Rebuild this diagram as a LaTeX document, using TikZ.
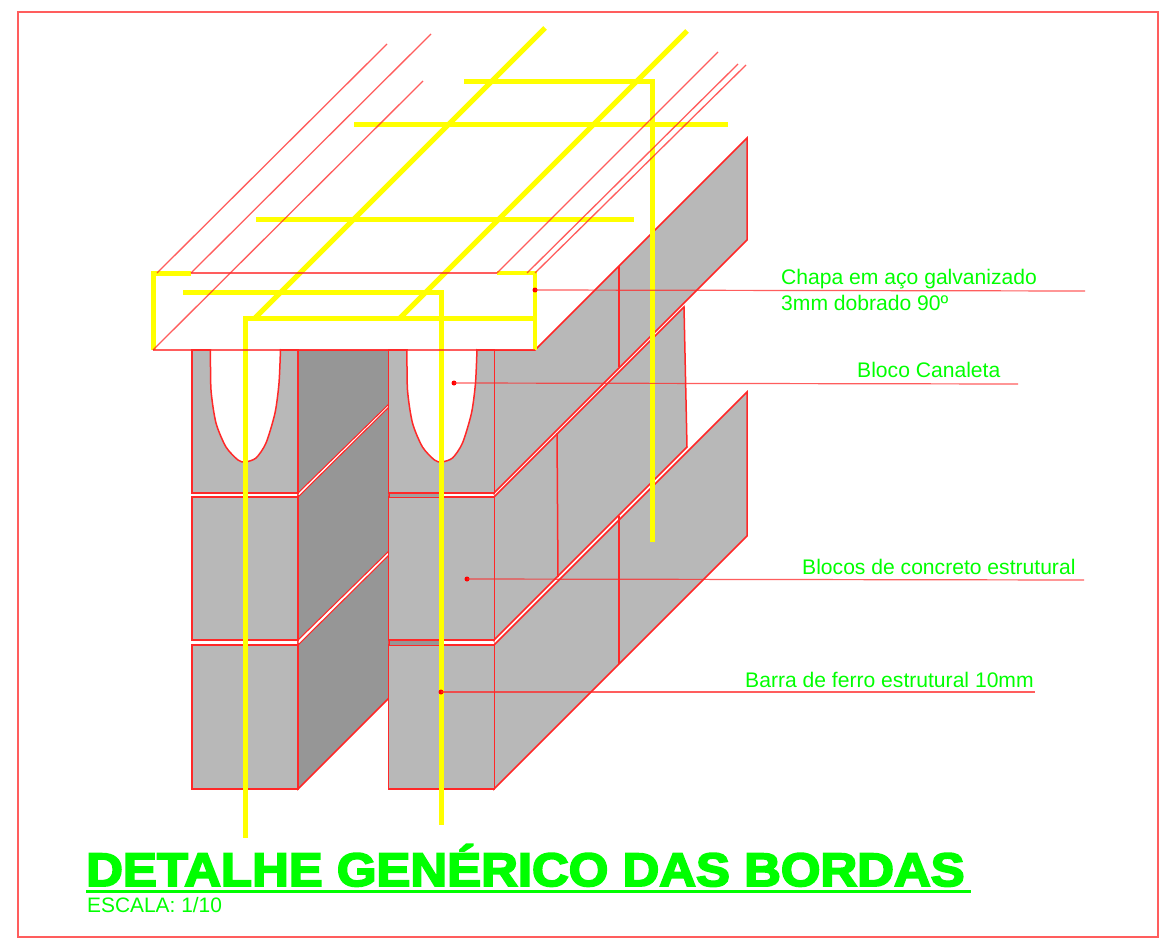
\documentclass[tikz,border=0pt]{standalone}
\usepackage{fontspec}
\setmainfont{Liberation Sans}
\newfontfamily\titlefont[BoldFeatures={FakeBold=4,FakeStretch=1.083}]{Liberation Sans}
\definecolor{linered}{RGB}{255,40,40}
\definecolor{barya}{RGB}{255,255,0}
\definecolor{labelgreen}{RGB}{0,255,0}
\definecolor{blockgray}{RGB}{184,184,184}
\definecolor{sidegray}{RGB}{150,150,150}
\def\colgap{196.5}

\begin{document}
\begin{tikzpicture}[x=1pt, y=-1pt]
        \tikzstyle{edge}   = [draw=linered, line width=1.5pt]
        \tikzstyle{block}  = [edge, fill=blockgray]
        \tikzstyle{side}   = [edge, fill=sidegray]
        \tikzstyle{gapline} = [edge, fill=white, line width=1.1pt]
        \tikzstyle{thin}   = [draw=linered, draw opacity=0.75, line width=1.3pt]
        \tikzstyle{bar}    = [draw=barya, line width=5pt]
        \tikzstyle{tie}    = [draw=barya, line width=5pt]
        \tikzstyle{callout} = [anchor=base west, inner sep=0pt, text=labelgreen, font=\fontsize{21.1}{24}\selectfont]
        \tikzstyle{dot}    = [circle, fill=red, minimum width=5pt, inner sep=0pt]
        \tikzstyle{leader} = [draw=linered, draw opacity=0.75, line width=1.2pt]

        \useasboundingbox (0,0) rectangle (1164,942);
        \fill[white] (0,0) rectangle (1164,942);
        \draw[thin, line width=1.6pt] (18,12) rectangle (1158,937);

        % side faces
        \draw[side] (298,350) -- (389,350) -- (389,698) -- (298,789) -- cycle;
        \draw[block] (494,350) -- (535,350) -- (747,138) -- (747,240) -- (494,493) -- cycle;
        \draw[block] (494,497) -- (684,307) -- (687,447) -- (494,640) -- cycle;
        \draw[block] (494,645) -- (747,392) -- (747,536) -- (494,789) -- cycle;
        \draw[gapline] (298,493) -- (389,404) -- (389,407) -- (298,497) -- cycle;
        \draw[gapline] (298,640) -- (389,551) -- (389,555) -- (298,645) -- cycle;
        \draw[edge] (619,266) -- (619,367);
        \draw[edge] (557,433) -- (558,577);
        \draw[edge] (619,516) -- (619,664);

        % block fronts, left and right column
        \foreach \i in {0,1}
        {
                \begin{scope}[xshift={\i*\colgap}]
                        \draw[block] (192,350) rectangle (298,493);
                        \draw[edge, fill=white] plot[smooth, tension=0.45] coordinates {(210.5,349) (211,390) (216,423) (226,447) (238,460) (245,462) (256,458) (266,443) (275,413) (279,383) (280.5,349)};
                        \draw[block] (192,497) rectangle (298,640);
                        \draw[block] (192,645) rectangle (298,789);
                \end{scope}
        }
        \fill[sidegray] (389.5,640.5) rectangle (441,644.5);
        \fill[sidegray!70!blockgray] (389.5,493.5) rectangle (441,496.5);
        \draw[linered, draw opacity=0.5, line width=0.7pt] (494,350) -- (494,789);

        % bars
        \draw[tie] (255,318) -- (545,28);
        \draw[tie] (400,318) -- (687,31);
        \draw[bar] (354,124) -- (728,124);
        \draw[bar] (256,219) -- (634,219);
        \draw[bar] (464,81) -- (652,81) -- (652,542);
        \draw[bar] (183,292) -- (441,292) -- (441,825);
        \draw[bar] (245,838) -- (245,318) -- (535,318);
        \draw[bar] (191,273) -- (153,273) -- (153,350);
        \draw[bar, line width=4pt] (497,273) -- (535,273) -- (535,350);

        % plate
        \draw[thin] (191,273) -- (497,273);
        \draw[thin] (153,350) -- (535,350);
        \draw[thin] (153,350) -- (423,81);
        \draw[thin] (157,273) -- (387,44);
        \draw[thin] (191,273) -- (431,34);
        \draw[thin] (497,273) -- (718,52);
        \draw[thin] (527,273) -- (738,64);
        \draw[thin] (535,273) -- (746,65);

        % callouts
        \node[dot] (chapadot) at (535,290) {};
        \node[dot] (canaletadot) at (454,383) {};
        \node[dot] (blocosdot) at (467,579) {};
        \node[dot] (barradot) at (441,692) {};
        \coordinate (chapaend) at (1085,291);
        \coordinate (canaletaend) at (1018,384);
        \coordinate (blocosend) at (1084,580);
        \coordinate (barraend) at (1035,692);
        \draw[leader] (chapadot.center) -- (chapaend);
        \draw[leader] (canaletadot.center) -- (canaletaend);
        \draw[leader] (blocosdot.center) -- (blocosend);
        \draw[leader] (barradot.center) -- (barraend);

        \node[callout] (chapa1) at (781,284) {Chapa em aço galvanizado};
        \node[callout] (chapa2) at (781,310) {3mm dobrado 90º};
        \node[callout] (canaleta) at (857,377) {Bloco Canaleta};
        \node[callout] (blocos) at (802,574) {Blocos de concreto estrutural};
        \node[callout] (barra) at (745,687) {Barra de ferro estrutural 10mm};

        % title
        \node[anchor=base west, inner sep=0pt, text=labelgreen, font=\titlefont\bfseries\fontsize{47}{50}\selectfont] (title) at (86,886) {DETALHE GENÉRICO DAS BORDAS};
        \coordinate (ruleleft) at (86,891);
        \coordinate (ruleright) at (971,891);
        \draw[labelgreen, line width=3pt] (ruleleft) -- (ruleright);
        \node[anchor=base west, inner sep=0pt, text=labelgreen, font=\fontsize{20.9}{24}\selectfont] (scale) at (87,912) {ESCALA: 1/10};
\end{tikzpicture}
\end{document}
